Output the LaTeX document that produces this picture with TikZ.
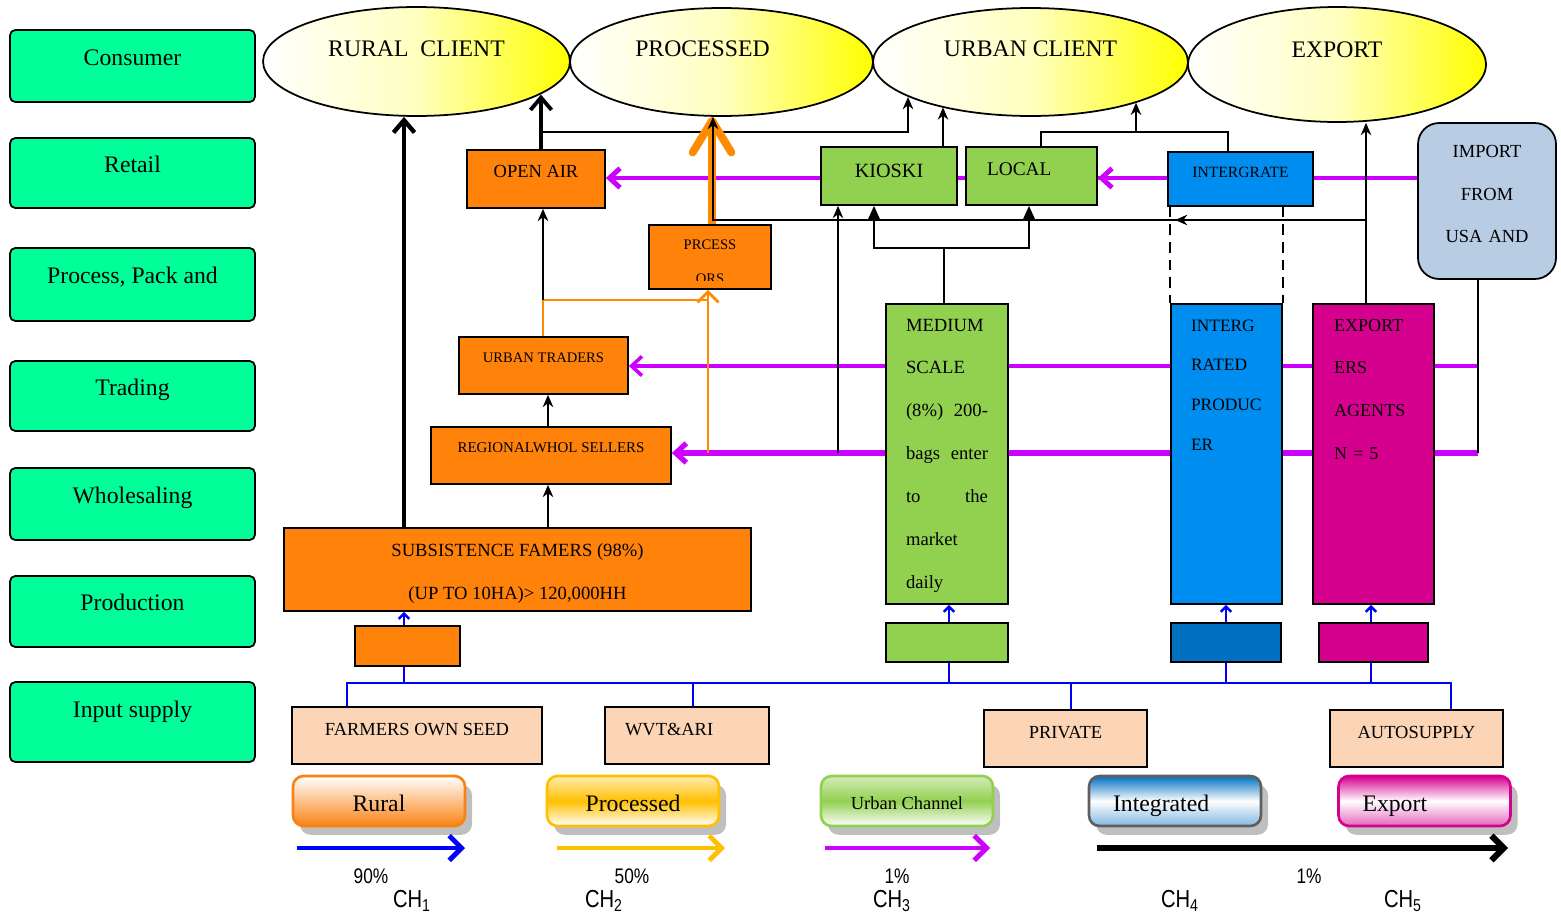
\documentclass[tikz,border=0pt]{standalone}
\usepackage{fontspec}
\setmainfont{Liberation Serif}
\newfontfamily\narrowsans[FakeStretch=0.82]{Liberation Sans}
\usetikzlibrary{shapes, arrows.meta, shadows}
\pgfdeclarelayer{back}
\pgfsetlayers{back,main}
\definecolor{lanegreen}{RGB}{0,255,153}
\definecolor{boxorange}{RGB}{255,130,10}
\definecolor{lgreen}{RGB}{146,208,80}
\definecolor{lblue}{RGB}{0,141,240}
\definecolor{dblue}{RGB}{0,112,192}
\definecolor{magbox}{RGB}{214,0,143}
\definecolor{importblue}{RGB}{184,204,228}
\definecolor{peach}{RGB}{251,213,181}
\definecolor{magline}{RGB}{204,0,255}
\definecolor{orline}{RGB}{255,140,0}
\definecolor{gold}{RGB}{255,192,0}
\definecolor{legorange}{RGB}{250,130,20}
\definecolor{leggray}{RGB}{95,95,95}

\begin{document}
\begin{tikzpicture}[x=0.02cm, y=-0.02cm,
    lane/.style={draw, line width=1pt, rounded corners=3pt, fill=lanegreen, minimum width=4.9cm, font=\fontsize{13.5}{16}\selectfont, text depth=10pt},
    client/.style={ellipse, draw, line width=1pt, left color=white, right color=yellow, middle color=yellow!25, font=\fontsize{13.5}{16}\selectfont, text depth=15pt},
    box/.style={draw, line width=1pt, rectangle},
    col/.style={box, minimum height=6cm, align=left, inner ysep=8pt, text height=7pt, text depth=147pt},
    inbox/.style={box, fill=peach, minimum height=1.14cm, font=\fontsize{10.5}{12}\selectfont, text depth=7.5pt},
    leg/.style={rounded corners=6pt, line width=1.5pt, minimum width=3.44cm, minimum height=1cm, text height=13pt, text depth=1pt, drop shadow={shadow xshift=4pt, shadow yshift=-5pt, fill=gray!50, opacity=1}},
    arr/.style={line width=0.9pt, -{Stealth[length=7pt, width=6pt]}},
    tri/.style={line width=0.9pt, -{Triangle[length=8pt, width=7pt]}},
    fatarr/.style={line width=2.5pt, -{Straight Barb[length=7pt, width=12pt]}},
    oline/.style={draw=orline, line width=1.6pt},
    orfat/.style={draw=orline, line width=4.5pt, -{Straight Barb[length=18pt, width=22pt, round]}},
    mag/.style={draw=magline, line width=2.8pt, -{Straight Barb[length=6pt, width=11pt]}},
    bl/.style={draw=blue, line width=1pt},
    blarr/.style={draw=blue, line width=1.4pt, -{Straight Barb[length=3pt, width=6pt]}},
    chan/.style={line width=2.8pt, -{Straight Barb[length=7pt, width=14pt]}}]
\useasboundingbox (0,0) rectangle (1561,913);

\node[lane, minimum height=1.44cm] (consumer) at (132.5,66) {Consumer};
\node[lane, minimum height=1.40cm] (retail) at (132.5,173) {Retail};
\node[lane, minimum height=1.46cm] (process) at (132.5,284.5) {Process, Pack and};
\node[lane, minimum height=1.40cm] (trading) at (132.5,396) {Trading};
\node[lane, minimum height=1.44cm] (wholesaling) at (132.5,504) {Wholesaling};
\node[lane, minimum height=1.42cm] (production) at (132.5,611.5) {Production};
\node[lane, minimum height=1.60cm, text depth=14pt] (inputsupply) at (132.5,722) {Input supply};

\node[client, minimum width=6.14cm, minimum height=2.18cm] (rural) at (416.5,61.5) {RURAL\ \ CLIENT};
\node[client, minimum width=6.06cm, minimum height=2.16cm] (processed) at (721.5,62) {PROCESSED\kern0.76cm};
\node[client, minimum width=6.3cm, minimum height=2.16cm] (urban) at (1030.5,62) {URBAN CLIENT};
\node[client, minimum width=5.96cm, minimum height=2.3cm, text depth=17pt] (export) at (1337,64.5) {EXPORT};

\node[box, fill=boxorange, minimum width=2.76cm, minimum height=1.16cm, font=\fontsize{10.5}{12}\selectfont, text depth=9pt] (openair) at (536,179) {OPEN AIR};
\node[box, fill=boxorange, minimum width=2.44cm, minimum height=1.28cm, font=\fontsize{8.3}{10}\selectfont, text depth=13.6pt] (prcess) at (710,257) {PRCESS};
\node[box, fill=boxorange, minimum width=3.38cm, minimum height=1.14cm, font=\fontsize{8.3}{10}\selectfont, text depth=9pt] (urbtraders) at (543.5,365.5) {URBAN TRADERS};
\node[box, fill=boxorange, minimum width=4.8cm, minimum height=1.14cm, font=\fontsize{8.5}{10}\selectfont, text depth=9pt] (regional) at (551,455.5) {REGIONALWHOL SELLERS};
\node[box, fill=boxorange, minimum width=9.34cm, minimum height=1.66cm, text width=9cm, align=flush center, text height=11.6pt, text depth=26.7pt, font=\fontsize{10.6}{24.4}\selectfont] (subsist) at (517.5,569.5) {SUBSISTENCE FAMERS (98\%)\\(UP TO 10HA)> 120,000HH};
\node[box, fill=boxorange, minimum width=2.1cm, minimum height=0.8cm] (smallorange) at (407.5,646) {};
\begin{scope}
\clip (649,225) rectangle (771,280);
\node[font=\fontsize{8.3}{10}\selectfont, anchor=base] (ors) at (710,283) {ORS};
\end{scope}

\node[box, fill=lgreen, minimum width=2.72cm, minimum height=1.16cm, font=\fontsize{11.5}{13}\selectfont, text depth=6pt] (kioski) at (889,176) {KIOSKI};
\node[box, fill=lgreen, minimum width=2.62cm, minimum height=1.16cm, text width=1.78cm, align=left, font=\fontsize{11}{13}\selectfont, text depth=8pt] (local) at (1031.5,176) {LOCAL};
\node[col, fill=lgreen, minimum width=2.44cm, text width=1.64cm, font=\fontsize{10.6}{24.4}\selectfont] (medium) at (947,454) {MEDIUM\\SCALE\\(8\%)\hfill 200-\\bags\hfill enter\\to\hfill the\\market\\daily};
\node[box, fill=lgreen, minimum width=2.44cm, minimum height=0.78cm] (smallgreen) at (947,642.5) {};

\node[box, fill=lblue, minimum width=2.9cm, minimum height=1.08cm, font=\fontsize{8.9}{11}\selectfont, text depth=8pt] (intergrate) at (1240.5,179) {INTERGRATE};
\node[col, fill=lblue, minimum width=2.22cm, text width=1.42cm, font=\fontsize{9.9}{22.7}\selectfont] (interg) at (1226.5,454) {INTERG\\RATED\\PRODUC\\ER};
\node[box, fill=dblue, minimum width=2.2cm, minimum height=0.78cm] (smallblue) at (1226,642.5) {};
\node[col, fill=magbox, minimum width=2.42cm, text width=1.58cm, font=\fontsize{10.3}{24.4}\selectfont] (exporters) at (1373.5,454) {EXPORT\\ERS\\AGENTS\\N = 5};
\node[box, fill=magbox, minimum width=2.18cm, minimum height=0.78cm] (smallmag) at (1373.5,642.5) {};
\node[box, rounded corners=12pt, fill=importblue, minimum width=2.76cm, minimum height=3.12cm, text width=2.4cm, align=center, font=\fontsize{10.5}{24}\selectfont, text depth=56pt] (import) at (1487,201) {IMPORT\\FROM\\USA AND};

\node[inbox, minimum width=5cm] (farmers) at (417,735.5) {FARMERS OWN SEED};
\node[inbox, minimum width=3.28cm, text width=2.48cm, align=left] (wvt) at (687,735.5) {WVT\&ARI};
\node[inbox, minimum width=3.26cm] (private) at (1065.5,738.5) {PRIVATE};
\node[inbox, minimum width=3.46cm] (autosupply) at (1416.5,738.5) {AUTOSUPPLY};

\node[leg, draw=legorange, top color=white, bottom color=legorange, font=\fontsize{13.5}{16}\selectfont] (rurallg) at (379,801) {Rural};
\node[leg, draw=gold, top color=gold!30, bottom color=white, middle color=gold, font=\fontsize{13.5}{16}\selectfont] (processedlg) at (633,801) {Processed};
\node[leg, draw=lgreen, top color=lgreen!40, bottom color=white, middle color=lgreen, text height=11pt, font=\fontsize{10.5}{12}\selectfont] (urbanlg) at (907,801) {Urban Channel};
\node[leg, draw=leggray, top color=dblue, bottom color=dblue!50, middle color=white, text width=2.48cm, align=left, font=\fontsize{13.5}{16}\selectfont] (integratedlg) at (1175,801) {Integrated};
\node[leg, draw=magbox, top color=magbox, bottom color=magbox!60, middle color=white, text width=2.48cm, align=left, font=\fontsize{13.5}{16}\selectfont] (exportlg) at (1424.5,801) {Export};

\node[font=\narrowsans\fontsize{12}{14}\selectfont] (pct1) at (371,876) {90\%};
\node[font=\narrowsans\fontsize{12}{14}\selectfont] (pct2) at (632,876) {50\%};
\node[font=\narrowsans\fontsize{12}{14}\selectfont] (pct3) at (897,876) {1\%};
\node[font=\narrowsans\fontsize{12}{14}\selectfont] (pct4) at (1309,876) {1\%};
\node[font=\narrowsans\fontsize{14}{16}\selectfont] (ch1) at (412,901) {CH\textsubscript{1}};
\node[font=\narrowsans\fontsize{14}{16}\selectfont] (ch2) at (604,901) {CH\textsubscript{2}};
\node[font=\narrowsans\fontsize{14}{16}\selectfont] (ch3) at (892,901) {CH\textsubscript{3}};
\node[font=\narrowsans\fontsize{14}{16}\selectfont] (ch4) at (1180,901) {CH\textsubscript{4}};
\node[font=\narrowsans\fontsize{14}{16}\selectfont] (ch5) at (1403,901) {CH\textsubscript{5}};

\coordinate (lvA) at (0,178);
\coordinate (lvB) at (0,366);
\coordinate (lvC) at (0,453);
\coordinate (bus) at (0,683);
\coordinate (ut) at (543,300);
\coordinate (oa) at (541,132);
\coordinate (ex) at (1366,220);
\coordinate (mj) at (944,248);

\begin{pgfonlayer}{back}
\draw[mag] (import.west |- lvA) -- (openair.east |- lvA);
\draw[mag] (intergrate.west |- lvA) -- (local.east |- lvA);
\draw[mag, line width=2pt] (lvB -| 1478,0) -- (urbtraders.east |- lvB);
\draw[mag, line width=3pt] (lvC -| 1478,0) -- (regional.east |- lvC);
\end{pgfonlayer}

\draw[fatarr] (subsist.north -| 404,0) -- (404,0 |- rural.south);
\draw[arr] (subsist.north -| 548,0) -- (regional.south -| 548,0);
\draw[arr] (regional.north -| 548,0) -- (urbtraders.south -| 548,0);
\draw[oline] (urbtraders.north -| ut) -- (ut) -- (ut -| 708,0);
\draw[oline, -{Straight Barb[length=6pt, width=12pt]}] (lvC -| 708,0) -- (prcess.south -| 708,0);
\draw[arr] (ut) -- (openair.south -| ut);
\draw[fatarr, line width=2.2pt] (openair.north -| oa) -- (oa |- rural.-15);
\draw[arr] (oa) -| (908,0 |- urban.-164);
\draw[orfat] (prcess.north -| 712,0) -- (712,0 |- processed.south);
\draw[arr] (exporters.north -| ex) -- (ex |- export.south);
\draw[arr] (ex) -- (ex -| 1175,0);
\draw[arr] (ex -| 1177,0) -| (713,0 |- processed.south);
\draw[arr] (kioski.north -| 943,0) -- (943,0 |- urban.-153);
\draw[line width=0.9pt] (local.north -| 1041,0) |- (oa -| 1228,0) -- (intergrate.north -| 1228,0);
\draw[arr] (oa -| 1136,0) -- (1136,0 |- urban.-21);
\draw[line width=0.9pt] (medium.north -| mj) -- (mj);
\draw[tri] (mj) -| (kioski.south -| 874,0);
\draw[tri] (mj) -| (local.south -| 1029,0);
\draw[arr] (lvC -| 838,0) -- (kioski.south -| 838,0);
\draw[line width=1pt, dash pattern=on 6pt off 4pt] (intergrate.south -| interg.west) -- (interg.north west);
\draw[line width=1pt, dash pattern=on 6pt off 4pt] (intergrate.south -| interg.east) -- (interg.north east);
\draw[line width=1pt] (import.south -| 1478,0) -- (lvC -| 1478,0);

\draw[bl] (farmers.north -| 347,0) -- (bus -| 347,0) -| (autosupply.north -| 1451,0);
\draw[bl] (wvt.north -| 693,0) -- (bus -| 693,0);
\draw[bl] (private.north -| 1071,0) -- (bus -| 1071,0);
\draw[bl, line width=1.4pt] (bus -| 404,0) -- (smallorange.south -| 404,0);
\draw[bl, line width=1.4pt] (bus -| 949,0) -- (smallgreen.south -| 949,0);
\draw[bl, line width=1.4pt] (bus -| smallblue) -- (smallblue.south);
\draw[bl, line width=1.4pt] (bus -| 1371,0) -- (smallmag.south -| 1371,0);
\draw[blarr] (smallorange.north -| 404,0) -- (subsist.south -| 404,0);
\draw[blarr] (smallgreen.north -| 949,0) -- (medium.south -| 949,0);
\draw[blarr] (smallblue.north) -- (interg.south -| smallblue);
\draw[blarr] (smallmag.north -| 1371,0) -- (exporters.south -| 1371,0);

\draw[chan, draw=blue] (297,848) -- (465,848);
\draw[chan, draw=gold] (557,848) -- (725,848);
\draw[chan, draw=magline] (825,848) -- (990,848);
\draw[chan, draw=black, line width=3.5pt] (1097,848) -- (1508,848);
\end{tikzpicture}
\end{document}
